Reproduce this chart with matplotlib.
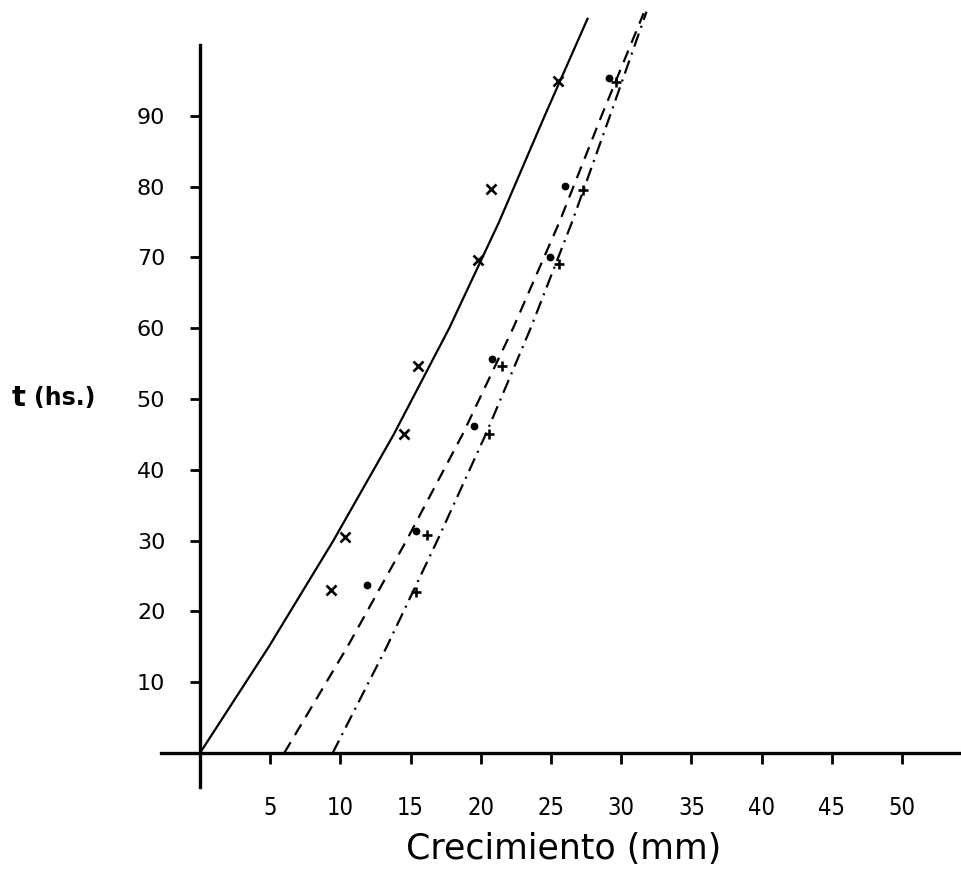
import matplotlib
matplotlib.use("Agg")
import matplotlib.pyplot as plt

plt.rcParams['lines.scale_dashes'] = False

# ---- data ----
x_ticks = [5, 10, 15, 20, 25, 30, 35, 40, 45, 50]
y_ticks = [10, 20, 30, 40, 50, 60, 70, 80, 90]

x_cross = [9.3, 10.3, 14.5, 15.5, 19.8, 20.7, 25.5]
t_cross = [23.0, 30.5, 45.0, 54.7, 69.6, 79.7, 94.9]
x_dot = [11.9, 15.4, 19.5, 20.8, 24.9, 26.0, 29.1]
t_dot = [23.7, 31.3, 46.2, 55.6, 70.0, 80.1, 95.4]
x_plus = [15.4, 16.2, 20.6, 21.5, 25.6, 27.3, 29.6]
t_plus = [22.8, 30.8, 45.0, 54.7, 69.1, 79.5, 94.8]

solid_x = [0.0, 4.9, 9.5, 13.8, 17.75, 21.3, 24.55, 27.6]
solid_t = [0.0, 15.0, 30.0, 45.0, 60.0, 75.0, 90.0, 103.7]
dashed_x = [6.0, 10.5, 14.7, 18.7, 22.3, 25.6, 28.6, 31.6]
dashed_t = [0.0, 15.0, 30.0, 45.0, 60.0, 75.0, 90.0, 104.5]
dashdot_x = [9.45, 13.3, 16.9, 20.35, 23.55, 26.5, 29.2, 31.8]
dashdot_t = [0.0, 15.0, 30.0, 45.0, 60.0, 75.0, 90.0, 104.7]

fig = plt.figure(figsize=(9.61, 8.86), dpi=100)
ax = fig.add_axes([0.1643, 0.1102, 0.8357, 0.887])
ax.set_xlim(-3, 54.2)
ax.set_ylim(-5, 106)

lw = 1.6
ax.plot(solid_x, solid_t, color='black', lw=lw, solid_joinstyle='round')
ax.plot(dashed_x, dashed_t, color='black', lw=lw, linestyle=(0, (9, 6)))
ax.plot(dashdot_x, dashdot_t, color='black', lw=lw, linestyle=(0, (10, 4.5, 1.5, 4.5)))

ax.plot(x_cross, t_cross, linestyle='none', marker='x', ms=7.5, mew=1.9, color='black')
ax.plot(x_dot, t_dot, linestyle='none', marker='o', ms=4.6, color='black')
ax.plot(x_plus, t_plus, linestyle='none', marker='+', ms=6.5, mew=1.9, color='black')

for s in ['top', 'right']:
    ax.spines[s].set_visible(False)
ax.spines['left'].set_position(('data', 0))
ax.spines['bottom'].set_position(('data', 0))
ax.spines['left'].set_bounds(-4.8, 100)
ax.spines['bottom'].set_bounds(-2.8, 54.2)
ax.spines['left'].set_linewidth(2.4)
ax.spines['bottom'].set_linewidth(2.4)

ax.set_xticks(x_ticks)
ax.set_xticklabels([str(v) for v in x_ticks], fontsize=17, fontstretch='condensed',
                   family=['Liberation Sans Narrow', 'DejaVu Sans'])
ax.set_yticks(y_ticks)
ax.set_yticklabels([str(v) for v in y_ticks], fontsize=16)
ax.tick_params(axis='x', direction='out', length=8, width=2, pad=23)
ax.tick_params(axis='y', direction='out', length=7, width=2, pad=18)

fig.text(564 / 961, 1 - 849 / 886, 'Crecimiento (mm)', fontsize=25,
         ha='center', va='center')
fig.text(12 / 961, 1 - 398 / 886, 't', fontsize=21, fontweight='bold',
         ha='left', va='center')
fig.text(34 / 961, 1 - 398 / 886, '(hs.)', fontsize=17, fontweight='bold',
         ha='left', va='center')

fig.savefig('out.png', dpi=100)
